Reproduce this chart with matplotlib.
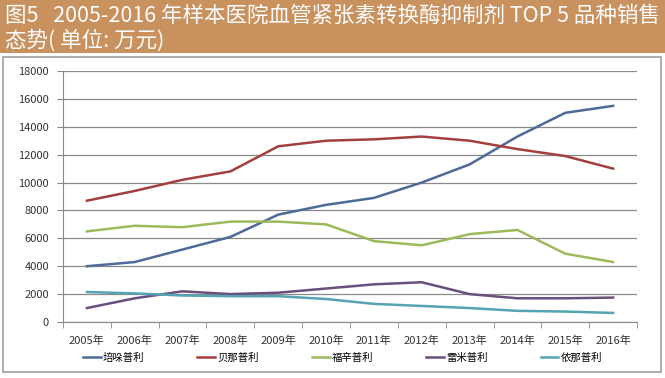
import matplotlib
matplotlib.use("Agg")
import matplotlib.pyplot as plt
from matplotlib.patches import Rectangle

plt.rcParams['font.family'] = ['Noto Sans CJK SC', 'DejaVu Sans']

years = ['2005年', '2006年', '2007年', '2008年', '2009年', '2010年',
         '2011年', '2012年', '2013年', '2014年', '2015年', '2016年']

# sales, 10k yuan
peidu = [4000, 4300, 5200, 6100, 7700, 8400, 8900, 10000, 11300, 13300, 15000, 15500]
beina = [8700, 9400, 10200, 10800, 12600, 13000, 13100, 13300, 13000, 12400, 11900, 11000]
fuxin = [6500, 6900, 6800, 7200, 7200, 7000, 5800, 5500, 6300, 6600, 4900, 4300]
leimi = [1000, 1700, 2200, 2000, 2100, 2400, 2700, 2850, 2000, 1700, 1700, 1750]
yina = [2150, 2050, 1900, 1850, 1850, 1650, 1300, 1150, 1000, 800, 750, 650]

names = ['培哚普利', '贝那普利', '福辛普利', '雷米普利', '依那普利']
series = [peidu, beina, fuxin, leimi, yina]
colors = ['#4d6a98', '#a3403f', '#9cba5c', '#6a4f7c', '#55a3b4']

fig = plt.figure(figsize=(6.65, 3.78), dpi=100)
W, H = 665, 378

# title banner
banner = fig.add_axes([0, 1 - 53 / H, 1, 53 / H])
banner.set_xlim(0, 1)
banner.set_ylim(0, 1)
banner.axis('off')
banner.add_patch(Rectangle((0, 0), 1, 1, color='#c8915e'))
banner.text(0.008, 0.70, '图5   2005-2016 年样本医院血管紧张素转换酶抑制剂 TOP 5 品种销售',
            color='white', fontsize=15.5, va='center', ha='left')
banner.text(0.008, 0.24, '态势( 单位: 万元)', color='white', fontsize=15.5,
            va='center', ha='left')

# chart frame
fig.patches.append(Rectangle((3 / W, 1 - 372 / H), 658 / W, 315 / H,
                             transform=fig.transFigure, fill=False,
                             edgecolor='#a0a0a0', linewidth=1.2))

ax = fig.add_axes([63 / W, 1 - 322 / H, 574 / W, 251 / H])
x = list(range(len(years)))
for name, vals, c in zip(names, series, colors):
    ax.plot(x, vals, color=c, linewidth=1.8, label=name)

ax.set_ylim(0, 18000)
ax.set_yticks(range(0, 18001, 2000))
ax.set_xlim(-0.5, 11.5)
ax.set_xticks(x)
ax.set_xticklabels(years)
ax.set_xticks([i - 0.5 for i in range(13)], minor=True)
ax.tick_params(axis='x', which='major', length=0, pad=10, labelsize=8, colors='#333333')
ax.tick_params(axis='x', which='minor', length=4, color='#888888')
ax.tick_params(axis='y', length=4, color='#888888', labelsize=8, colors='#333333', pad=6)
ax.grid(axis='y', color='#8a8a8a', linewidth=0.9)
ax.set_axisbelow(True)
for s in ['top', 'right']:
    ax.spines[s].set_visible(False)
ax.spines['left'].set_color('#888888')
ax.spines['bottom'].set_color('#888888')

fig.legend(loc='center', bbox_to_anchor=(0.515, 1 - 358 / H), ncol=5, frameon=False,
           fontsize=7.5, handlelength=1.7, columnspacing=5.1, handletextpad=0.2)

fig.savefig('out.png', dpi=100)
